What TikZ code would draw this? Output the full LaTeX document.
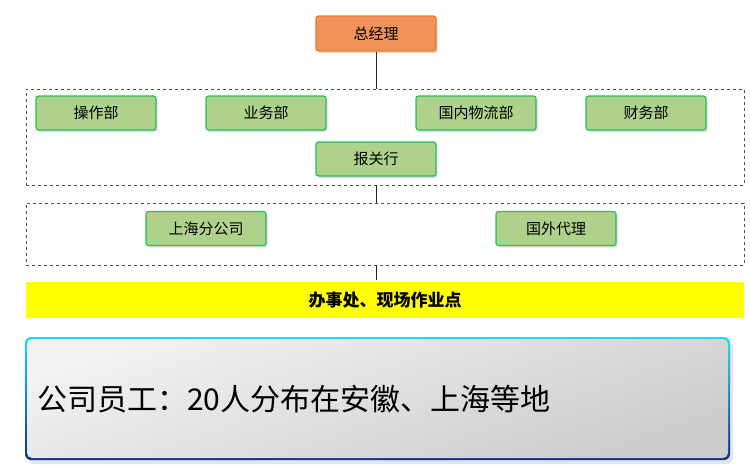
\documentclass[tikz,border=0pt]{standalone}
\usepackage{fontspec}
\setmainfont{Noto Sans CJK SC}
\usetikzlibrary{shadows}
\definecolor{orfill}{HTML}{F0925A}
\definecolor{ordraw}{HTML}{F57A1E}
\definecolor{grfill}{HTML}{AED28C}
\definecolor{grdraw}{HTML}{22C05A}
\definecolor{dashc}{HTML}{505050}
\definecolor{ybar}{HTML}{FFFF00}
\definecolor{bdtop}{HTML}{10E4F4}
\definecolor{bdbot}{HTML}{102C8C}
\tikzset{
  unitbox/.style={draw=grdraw, line width=1.2pt, fill=grfill, rounded corners=2.5pt,
    minimum width=120pt, minimum height=34pt, inner sep=0pt, font=\fontsize{15}{15}\selectfont,
    drop shadow={shadow xshift=1.5pt, shadow yshift=-2pt, opacity=0.25, fill=gray}},
  bossbox/.style={unitbox, draw=ordraw, fill=orfill, minimum height=35pt},
  groupbox/.style={draw=dashc, dashed, line width=0.6pt, minimum width=718pt, inner sep=0pt},
  link/.style={draw=black!85, line width=0.8pt}
}
\begin{document}
\begin{tikzpicture}[x=1pt,y=-1pt]
\useasboundingbox (0,0) rectangle (750,464);
% groups
\node[groupbox, minimum height=96pt] (g1) at (385,137) {};
\node[groupbox, minimum height=62pt] (g2) at (385,234) {};
% boss
\node[bossbox] (zjl) at (376,33.5) {总经理};
% departments
\node[unitbox] (czb) at (96,113) {操作部};
\node[unitbox] (ywb) at (266,113) {业务部};
\node[unitbox] (gnwl) at (476,113) {国内物流部};
\node[unitbox] (cwb) at (646,113) {财务部};
\node[unitbox] (bgh) at (376,159) {报关行};
\node[unitbox] (shfgs) at (206,228.5) {上海分公司};
\node[unitbox] (gwdl) at (556,228.5) {国外代理};
% yellow bar
\node[fill=ybar, minimum width=718pt, minimum height=36pt, inner sep=0pt,
  font=\fontsize{17}{17}\selectfont\bfseries] (bar) at (385,300) {办事处、现场作业点};
% links
\draw[link] (zjl.south) -- (zjl.south |- g1.north);
\draw[link] (g1.south -| zjl.south) -- (g2.north -| zjl.south);
\draw[link] (g2.south -| zjl.south) -- ([yshift=2pt]bar.north -| zjl.south);
% bottom box
\fill[gray!40, opacity=0.5, rounded corners=6pt] (28,341) rectangle (733,464);
\shade[top color=bdtop, bottom color=bdbot, rounded corners=6pt] (25,337) rectangle (730,460);
\shade[left color=white!95!black, right color=white!80!black, shading angle=20, rounded corners=5pt] (27,339) rectangle (728,458);
\node[anchor=west, inner sep=0pt, font=\fontsize{30}{30}\selectfont] (staff) at (37,399) {公司员工：20人分布在安徽、上海等地};
\end{tikzpicture}
\end{document}
